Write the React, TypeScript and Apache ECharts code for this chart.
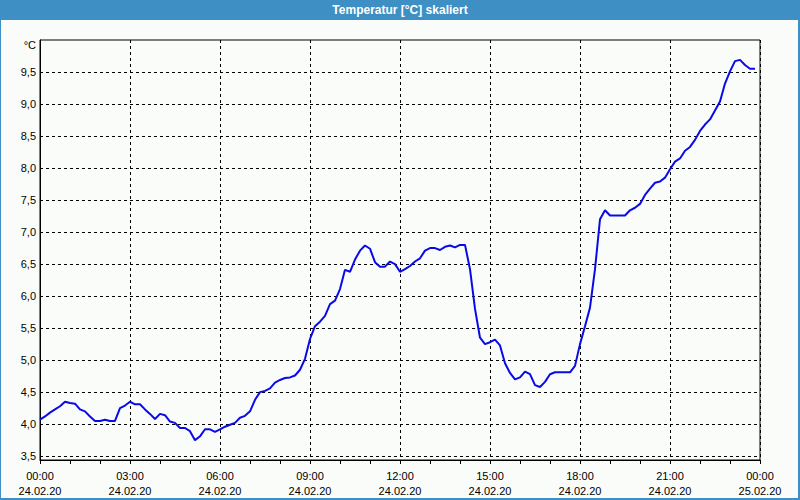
import React, { useEffect, useRef } from "react";
import * as echarts from "echarts";

const TITLE = "Temperatur [°C] skaliert";
const UNIT = "°C";
// samples every 10 minutes from 24.02.20 00:00
const STEP_HOURS = 1 / 6;
const temps: number[] = [
  4.07, 4.12, 4.18, 4.23, 4.28, 4.35, 4.33, 4.32, 4.23, 4.2, 4.12, 4.05,
  4.05, 4.07, 4.05, 4.05, 4.25, 4.29, 4.35, 4.31, 4.31, 4.23, 4.16, 4.08,
  4.16, 4.14, 4.04, 4.02, 3.94, 3.94, 3.89, 3.75, 3.81, 3.92, 3.92, 3.88,
  3.92, 3.96, 3.99, 4.02, 4.1, 4.13, 4.2, 4.38, 4.5, 4.52, 4.56, 4.65,
  4.69, 4.72, 4.73, 4.76, 4.85, 5.02, 5.33, 5.53, 5.6, 5.69, 5.875, 5.93,
  6.11, 6.41, 6.38, 6.57, 6.71, 6.79, 6.74, 6.53, 6.46, 6.46, 6.54, 6.5,
  6.38, 6.42, 6.47, 6.54, 6.59, 6.71, 6.75, 6.75, 6.72, 6.77, 6.79, 6.76,
  6.8, 6.8, 6.42, 5.8, 5.35, 5.25, 5.28, 5.32, 5.23, 4.95, 4.8, 4.7,
  4.73, 4.82, 4.78, 4.61, 4.58, 4.66, 4.78, 4.81, 4.81, 4.81, 4.81, 4.91,
  5.25, 5.53, 5.82, 6.42, 7.2, 7.34, 7.26, 7.26, 7.26, 7.26, 7.34, 7.38,
  7.44, 7.58, 7.68, 7.77, 7.79, 7.85, 7.98, 8.1, 8.15, 8.27, 8.33, 8.44,
  8.58, 8.68, 8.76, 8.9, 9.04, 9.32, 9.51, 9.67, 9.69, 9.61, 9.55, 9.55,
];
const yTickValues = [3.5, 4, 4.5, 5, 5.5, 6, 6.5, 7, 7.5, 8, 8.5, 9, 9.5];
const Y_MIN = 3.44;
const Y_MAX = 10;
const xHourLabels: Record<number, string> = {
  0: "00:00\n24.02.20",
  3: "03:00\n24.02.20",
  6: "06:00\n24.02.20",
  9: "09:00\n24.02.20",
  12: "12:00\n24.02.20",
  15: "15:00\n24.02.20",
  18: "18:00\n24.02.20",
  21: "21:00\n24.02.20",
  24: "00:00\n25.02.20",
};

const FONT = "'Liberation Sans', Arial, sans-serif";
const BLUE_FRAME = "#3d8fc4";

export default function App() {
  const ref = useRef<HTMLDivElement>(null);
  useEffect(() => {
    if (!ref.current) return;
    const chart = echarts.init(ref.current, null, { renderer: "svg" });
    const data = temps.map((v, i) => [i * STEP_HOURS, v]);
    chart.setOption({
      animation: false,
      backgroundColor: "#fafcfa",
      textStyle: { fontFamily: FONT },
      title: {
        text: TITLE,
        left: "center",
        top: 4,
        padding: 0,
        textStyle: { color: "#ffffff", fontSize: 12, fontWeight: "bold", fontFamily: FONT },
        z: 10,
      },
      graphic: [
        { type: "rect", z: 1, shape: { x: 0, y: 0, width: 800, height: 20 }, style: { fill: BLUE_FRAME } },
        { type: "rect", z: 1, shape: { x: 0, y: 0, width: 1, height: 500 }, style: { fill: BLUE_FRAME } },
        { type: "rect", z: 1, shape: { x: 798, y: 0, width: 2, height: 500 }, style: { fill: BLUE_FRAME } },
        { type: "rect", z: 1, shape: { x: 0, y: 498, width: 800, height: 2 }, style: { fill: BLUE_FRAME } },
      ],
      grid: { left: 40, right: 40, top: 40, bottom: 40, show: true, borderColor: "#000", borderWidth: 1, backgroundColor: "transparent" },
      xAxis: {
        type: "value",
        min: 0,
        max: 24,
        interval: 3,
        axisLine: { show: true, lineStyle: { color: "#000", width: 1 } },
        axisTick: { show: true, length: 4, lineStyle: { color: "#000" } },
        minorTick: { show: true, splitNumber: 3, length: 4, lineStyle: { color: "#000" } },
        splitLine: { show: true, lineStyle: { color: "#000", type: [3, 3], width: 1 } },
        axisLabel: {
          color: "#000",
          fontSize: 11,
          fontFamily: FONT,
          lineHeight: 15,
          margin: 8,
          showMinLabel: true,
          showMaxLabel: true,
          formatter: (v: number) => xHourLabels[Math.round(v)] ?? "",
        },
      },
      yAxis: {
        type: "value",
        min: Y_MIN,
        max: Y_MAX,
        axisLine: { show: true, lineStyle: { color: "#000", width: 1 } },
        axisTick: { show: false, customValues: yTickValues },
        splitLine: { show: true, lineStyle: { color: "#000", type: [3, 3], width: 1 } },
        axisLabel: {
          color: "#000",
          fontSize: 11,
          fontFamily: FONT,
          margin: 4,
          customValues: [...yTickValues, Y_MAX],
          formatter: (v: number) => (v >= Y_MAX ? "{u|" + UNIT + "}" : v.toFixed(1).replace(".", ",")),
          rich: { u: { fontSize: 11, fontFamily: FONT, color: "#000", padding: [10, 0, 0, 0] } },
        },
      },
      series: [
        {
          type: "line",
          data,
          showSymbol: false,
          symbol: "none",
          lineStyle: { color: "#0a0ae6", width: 2 },
          z: 5,
        },
      ],
    });
    return () => chart.dispose();
  }, []);
  return (
    <div
      ref={ref}
      style={{ position: "fixed", left: 0, top: 0, width: 800, height: 500 }}
    />
  );
}
